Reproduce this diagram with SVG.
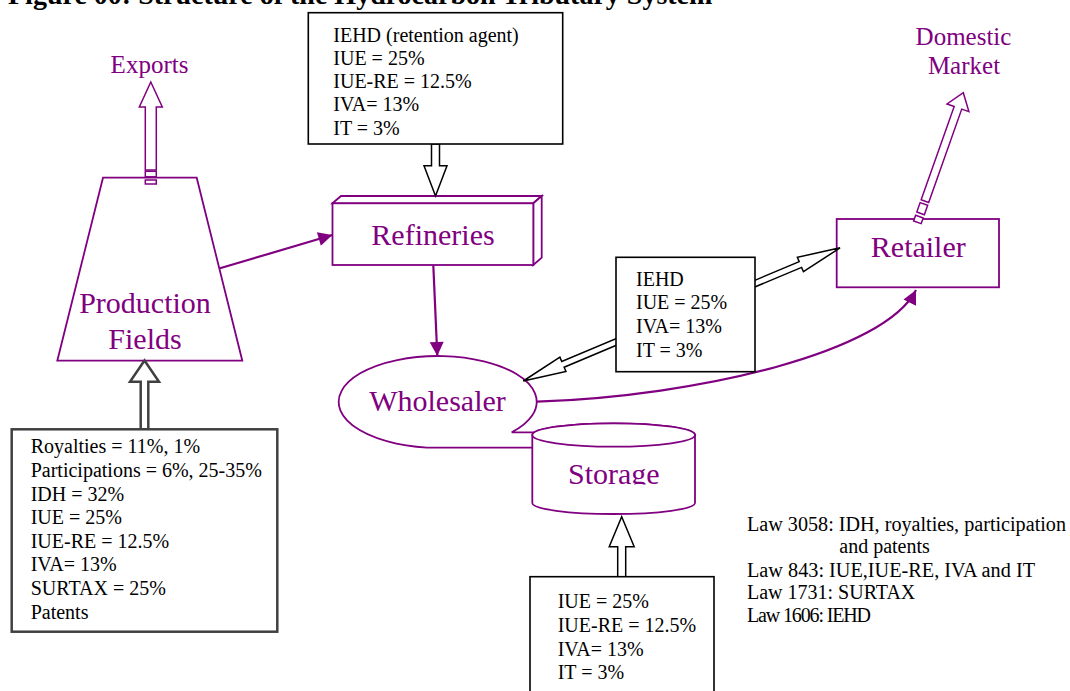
<svg xmlns="http://www.w3.org/2000/svg" width="1070" height="691" viewBox="0 0 1070 691">
<style>
.p{fill:#fff;stroke:#800080;stroke-width:1.8}
.b{fill:#fff;stroke:#000;stroke-width:1.6}
.pl{fill:#800080;font-family:"Liberation Serif","Times New Roman",serif;font-size:30px;text-anchor:middle}
.pm{fill:#800080;font-family:"Liberation Serif","Times New Roman",serif;font-size:25px;text-anchor:middle}
.t{fill:#000;font-family:"Liberation Serif","Times New Roman",serif;font-size:20px}
.law{fill:#000;font-family:"Liberation Serif","Times New Roman",serif;font-size:20px}
.conn{fill:none;stroke:#800080;stroke-width:2.2}
</style>
<defs>
<marker id="ah" viewBox="0 0 14 14" refX="14" refY="7" markerWidth="15" markerHeight="14" markerUnits="userSpaceOnUse" orient="auto">
<path d="M0,0 L14,7 L0,14 Z" fill="#800080"/>
</marker>
<clipPath id="stclip"><rect x="520" y="440" width="200" height="44.5"/></clipPath>
</defs>
<rect width="1070" height="691" fill="#fff"/>
<text x="8" y="3.5" font-family="'Liberation Serif','Times New Roman',serif" font-size="28" font-weight="bold" fill="#000">Figure 00: Structure of the Hydrocarbon Tributary System</text>

<g id="production-fields">
<polygon class="p" points="103,177.7 196.7,177.7 242.3,360.7 57.3,360.7"/>
<text class="pl" x="145" y="313">Production</text>
<text class="pl" x="145" y="349">Fields</text>
</g>

<g id="refineries">
<polygon class="p" points="332.5,203.3 341,196 541.7,196 533.3,203.3"/>
<polygon class="p" points="533.3,203.3 541.7,196 541.7,257.7 533.3,265"/>
<rect class="p" x="332.5" y="203.3" width="200.8" height="61.7"/>
<text class="pl" x="433" y="245">Refineries</text>
</g>

<g id="wholesaler">
<path class="p" d="M511.7,432.3 A99,45.85 0 1 0 437.5,447.7 L545,447.7 L545,432.3 Z"/>
<text class="pl" x="437.5" y="410.7">Wholesaler</text>
</g>

<g id="storage">
<path class="p" d="M532.3,435 A81.3,11.7 0 0 1 695,435 L695,503 A81.3,11 0 0 1 532.3,503 Z"/>
<ellipse class="p" cx="613.65" cy="435" rx="81.35" ry="11.7"/>
<text class="pl" x="613.8" y="484" clip-path="url(#stclip)">Storage</text>
</g>

<g id="retailer">
<rect class="p" x="836.7" y="219" width="162.3" height="68.3"/>
<text class="pl" x="918.3" y="257.3">Retailer</text>
</g>

<g id="exports">
<text class="pm" x="149.5" y="73">Exports</text>
</g>

<g id="domestic-market">
<text class="pm" x="963.5" y="45">Domestic</text>
<text class="pm" x="964" y="74.3">Market</text>
</g>

<g id="connectors">
<g id="exports-arrow" class="p" style="stroke-width:1.5">
<path d="M150.8,82 L162.3,107 L156.3,107 L156.3,170 L145.3,170 L145.3,107 L139.3,107 Z"/>
<rect x="145.3" y="171.3" width="11" height="5.5"/>
<rect x="145.3" y="180" width="11" height="4"/>
</g>
<g id="domestic-arrow" class="p" style="stroke-width:1.5" transform="translate(963.3,92.7) rotate(19.5)">
<path d="M0,0 L11.6,16 L4,16 L4,115 L-4,115 L-4,16 L-11.6,16 Z"/>
<rect x="-4" y="118" width="8" height="10"/>
<rect x="-4" y="131.5" width="8" height="6"/>
</g>
<path class="conn" d="M220,268.3 L332.3,235" marker-end="url(#ah)"/>
<path class="conn" d="M433.3,265 L437.3,356" marker-end="url(#ah)"/>
<path class="conn" d="M537,401.7 C700,396 885,352 916,290" marker-end="url(#ah)"/>
<path class="b" style="stroke-width:1.5" transform="translate(523.3,381) rotate(-22.8)" d="M0,0 L43,-7.8 L43,-3.1 L300.6,-3.1 L300.6,-7.8 L343.6,0 L300.6,7.8 L300.6,3.1 L43,3.1 L43,7.8 Z"/>
<path class="b" style="stroke-width:1.5" d="M435.5,196 L447,165.7 L439.5,165.7 L439.5,144 L431.5,144 L431.5,165.7 L424,165.7 Z"/>
<path class="b" style="stroke-width:1.5" d="M621.7,516.7 L634.2,546.7 L625.7,546.7 L625.7,576.7 L617.7,576.7 L617.7,546.7 L609.2,546.7 Z"/>
<path style="fill:#fff;stroke:#404040;stroke-width:2.5" d="M144.5,360.5 L159,381.7 L148.3,381.7 L148.3,429.3 L140.7,429.3 L140.7,381.7 L130,381.7 Z"/>
</g>

<g id="tax-refineries">
<rect class="b" x="308.3" y="12.7" width="254.4" height="131.3"/>
<text class="t" x="333.3" y="41.7">IEHD (retention agent)</text>
<text class="t" x="333.3" y="64.9">IUE = 25%</text>
<text class="t" x="333.3" y="88.1">IUE-RE = 12.5%</text>
<text class="t" x="333.3" y="111.3">IVA= 13%</text>
<text class="t" x="333.3" y="134.5">IT = 3%</text>
</g>

<g id="tax-wholesale-retail">
<rect class="b" x="616" y="257.3" width="139" height="114.4"/>
<text class="t" x="636" y="285.7">IEHD</text>
<text class="t" x="636" y="309.3">IUE = 25%</text>
<text class="t" x="636" y="332.9">IVA= 13%</text>
<text class="t" x="636" y="356.5">IT = 3%</text>
</g>

<g id="tax-production">
<rect x="11.7" y="429.3" width="265.6" height="202.4" style="fill:#fff;stroke:#404040;stroke-width:2.5"/>
<text class="t" x="30.7" y="453.3">Royalties = 11%, 1%</text>
<text class="t" x="30.7" y="476.9">Participations = 6%, 25-35%</text>
<text class="t" x="30.7" y="500.5">IDH = 32%</text>
<text class="t" x="30.7" y="524.1">IUE = 25%</text>
<text class="t" x="30.7" y="547.7">IUE-RE = 12.5%</text>
<text class="t" x="30.7" y="571.3">IVA= 13%</text>
<text class="t" x="30.7" y="594.9">SURTAX = 25%</text>
<text class="t" x="30.7" y="618.5">Patents</text>
</g>

<g id="tax-storage">
<rect class="b" x="530" y="576.7" width="184" height="130"/>
<text class="t" x="557.7" y="608.3">IUE = 25%</text>
<text class="t" x="557.7" y="632">IUE-RE = 12.5%</text>
<text class="t" x="557.7" y="655.7">IVA= 13%</text>
<text class="t" x="557.7" y="679.3">IT = 3%</text>
</g>

<g id="laws">
<text class="law" x="747" y="530.7" textLength="319" lengthAdjust="spacingAndGlyphs">Law 3058: IDH, royalties, participation</text>
<text class="law" x="839.3" y="553.3">and patents</text>
<text class="law" x="747" y="576.7" textLength="288" lengthAdjust="spacingAndGlyphs">Law 843: IUE,IUE-RE, IVA and IT</text>
<text class="law" x="747" y="599.3">Law 1731: SURTAX</text>
<text class="law" x="747" y="621.7" textLength="124" lengthAdjust="spacing">Law 1606: IEHD</text>
</g>
</svg>
